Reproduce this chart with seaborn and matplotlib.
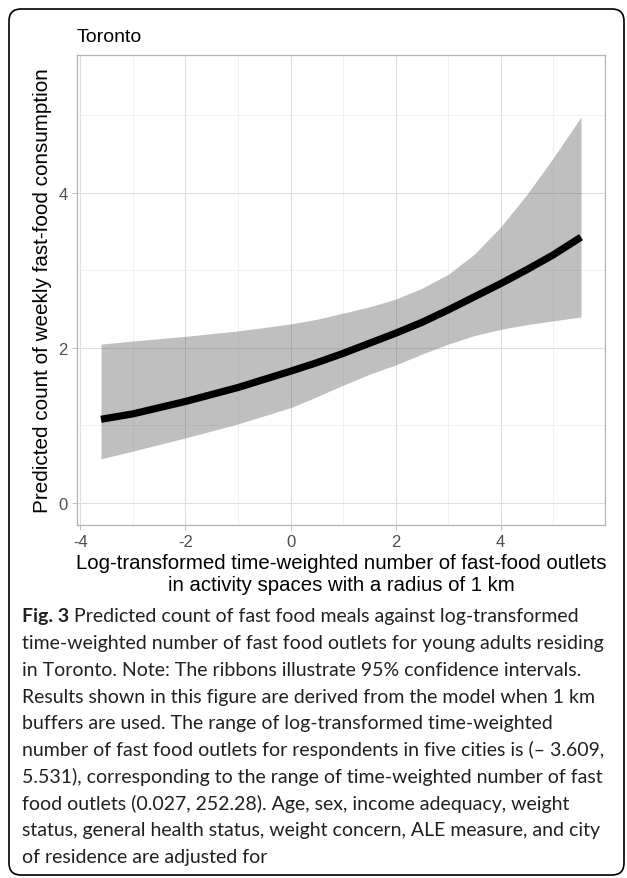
import numpy as np
import pandas as pd
import seaborn as sns
import matplotlib
matplotlib.use("Agg")
from matplotlib import pyplot as plt
from matplotlib.patches import FancyBboxPatch

# Values (Toronto panel)
x_vals = [-3.609, -3.0, -2.0, -1.0, 0.0, 0.5, 1.0, 1.5, 2.0, 2.5, 3.0, 3.5, 4.0, 4.5, 5.0, 5.531]
predicted = [1.08, 1.15, 1.31, 1.49, 1.70, 1.81, 1.93, 2.06, 2.19, 2.33, 2.49, 2.66, 2.83, 3.01, 3.20, 3.43]
upper_ci = [2.05, 2.09, 2.15, 2.22, 2.31, 2.37, 2.45, 2.53, 2.63, 2.77, 2.95, 3.21, 3.56, 3.98, 4.45, 4.98]
lower_ci = [0.57, 0.67, 0.84, 1.02, 1.23, 1.37, 1.52, 1.66, 1.78, 1.92, 2.05, 2.16, 2.24, 2.30, 2.35, 2.40]

x_ticks = [-4, -2, 0, 2, 4]
y_ticks = [0, 2, 4]

caption_lines = [
    "Predicted count of fast food meals against log-transformed",
    "time-weighted number of fast food outlets for young adults residing",
    "in Toronto. Note: The ribbons illustrate 95% confidence intervals.",
    "Results shown in this figure are derived from the model when 1 km",
    "buffers are used. The range of log-transformed time-weighted",
    "number of fast food outlets for respondents in five cities is (\u2013 3.609,",
    "5.531), corresponding to the range of time-weighted number of fast",
    "food outlets (0.027, 252.28). Age, sex, income adequacy, weight",
    "status, general health status, weight concern, ALE measure, and city",
    "of residence are adjusted for",
]

df = pd.DataFrame({"x": x_vals, "pred": predicted, "lo": lower_ci, "hi": upper_ci})

sns.set_theme(style="white")
plt.rcParams["font.family"] = ["Liberation Sans", "DejaVu Sans"]
plt.rcParams["axes.unicode_minus"] = False

W, H = 627, 879
fig = plt.figure(figsize=(W / 100, H / 100), dpi=100)

# background layer in pixel units: frame + caption
bg = fig.add_axes([0, 0, 1, 1], zorder=0)
bg.set_xlim(0, W)
bg.set_ylim(H, 0)
bg.axis("off")
frame = FancyBboxPatch((9, 10), 615, 866, boxstyle="round,pad=0,rounding_size=12",
                       facecolor="none", edgecolor="black", linewidth=1.2)
bg.add_patch(frame)

cap_font = ["Lato", "DejaVu Sans"]
cap_size = 14.0
y0, step = 617, 26.67
fig_tag = bg.text(22, y0, "Fig. 3", fontsize=cap_size, fontweight="bold", family=cap_font,
                  va="center", ha="left", color="#231f20")
fig.canvas.draw()
tag_end = fig_tag.get_window_extent().x1 + 5  # pixels, same as bg data units
for i, line in enumerate(caption_lines):
    x = tag_end if i == 0 else 22
    bg.text(x, y0 + i * step, line, fontsize=cap_size, family=cap_font,
            va="center", ha="left", color="#231f20")

# main panel
ax = fig.add_axes([77 / W, 1 - 526 / H, (605 - 77) / W, (526 - 56) / H], zorder=1)
ax.fill_between(df["x"], df["lo"], df["hi"], color="#333333", alpha=0.31, linewidth=0, zorder=2)
sns.lineplot(data=df, x="x", y="pred", color="black", linewidth=5.2, ax=ax, zorder=3)
ax.lines[-1].set_solid_capstyle("butt")
ax.lines[-1].set_solid_joinstyle("round")

ax.set_xlim(-4.066, 5.988)
ax.set_ylim(-0.284, 5.78)
ax.set_xticks(x_ticks)
ax.set_yticks(y_ticks)
ax.set_xticks([-3, -1, 1, 3, 5], minor=True)
ax.set_yticks([1, 3, 5], minor=True)
ax.grid(True, which="major", color="#dedede", linewidth=0.8, zorder=0)
ax.grid(True, which="minor", color="#ececec", linewidth=0.5, zorder=0)
ax.set_axisbelow(True)
for s in ax.spines.values():
    s.set_color("#b3b3b3")
    s.set_linewidth(0.9)
ax.tick_params(which="major", length=3.5, width=0.6, color="#b3b3b3",
               labelsize=12, labelcolor="#4d4d4d", pad=3, bottom=True, left=True)
ax.tick_params(which="minor", length=0)

ax.set_xlabel("Log-transformed time-weighted number of fast-food outlets\nin activity spaces with a radius of 1 km",
              fontsize=14.7, color="black", labelpad=3, linespacing=1.2)
ax.set_ylabel("Predicted count of weekly fast-food consumption", fontsize=14.9,
              color="black", labelpad=5)
ax.set_title("Toronto", loc="left", fontsize=14, color="black", pad=10)

fig.savefig("out.png", dpi=100)
